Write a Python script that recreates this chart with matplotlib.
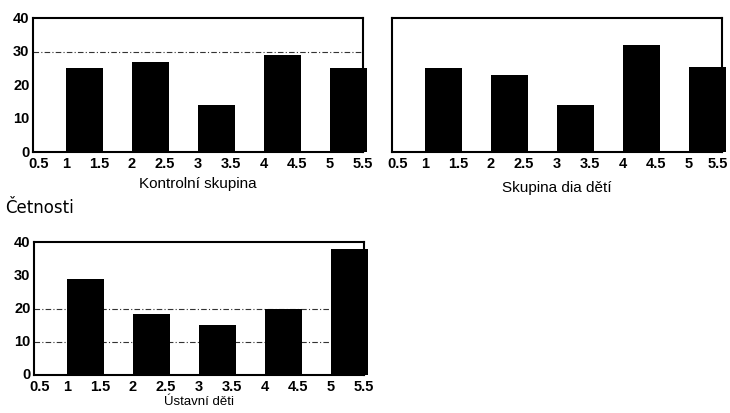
import matplotlib
matplotlib.use("Agg")
import matplotlib.pyplot as plt
import matplotlib.transforms as mtransforms

categories = [1, 2, 3, 4, 5]
kontrolni = [25, 27, 14, 29, 25]
dia_deti = [25, 23, 14, 32, 25.5]
ustavni = [29, 18.5, 15, 20, 38]
x_ticks = [0.5, 1, 1.5, 2, 2.5, 3, 3.5, 4, 4.5, 5, 5.5]
x_tick_labels = ["0.5", "1", "1.5", "2", "2.5", "3", "3.5", "4", "4.5", "5", "5.5"]
y_ticks = [0, 10, 20, 30, 40]
titles = ["Kontrolní skupina", "Skupina dia dětí", "Ústavní děti"]
grid_levels = [[30], [], [10, 20]]
ylabel = "Četnosti"

plt.rcParams['font.family'] = ['Liberation Sans', 'DejaVu Sans']

fig = plt.figure(figsize=(7.3, 4.14), dpi=100)
positions = [
    [0.0452, 0.6304, 0.452, 0.3237],
    [0.537, 0.6304, 0.452, 0.3237],
    [0.0466, 0.0918, 0.452, 0.321],
]
label_sizes = [11, 11, 9.5]
label_pads = [4, 7, 1]
series = [kontrolni, dia_deti, ustavni]


def shift(lab, dx_px, dy_px):
    off = mtransforms.ScaledTranslation(dx_px / fig.dpi, dy_px / fig.dpi, fig.dpi_scale_trans)
    lab.set_transform(lab.get_transform() + off)


for i, (pos, vals) in enumerate(zip(positions, series)):
    ax = fig.add_axes(pos)
    bars = ax.bar(categories, vals, width=0.56, align='edge', color='black', zorder=3)
    for b in bars:
        b.set_clip_on(False)
    for g in grid_levels[i]:
        ax.axhline(g, color='#333333', lw=0.8, ls=(0, (5, 2, 1, 2)), zorder=1)
    ax.set_xlim(0.5, 5.5)
    ax.set_ylim(0, 40)
    ax.tick_params(axis='x', length=0, pad=3)
    ax.tick_params(axis='y', length=0, pad=2.5)
    ax.set_xticks(x_ticks)
    ax.set_xticklabels(x_tick_labels, fontsize=10.5, fontweight='bold')
    ax.set_yticks(y_ticks)
    if i == 1:
        ax.set_yticklabels([])
    else:
        ax.set_yticklabels([str(v) for v in y_ticks], fontsize=10.5, fontweight='bold')
        for lab in ax.get_yticklabels():
            shift(lab, 0, 2)
    xl = ax.get_xticklabels()
    shift(xl[0], 6, 0)
    if i == 1:
        shift(xl[-1], -4, 0)
    for s in ax.spines.values():
        s.set_linewidth(1.5)
        s.set_color('black')
    ax.set_xlabel(titles[i], fontsize=label_sizes[i], labelpad=label_pads[i])

fig.text(0.007, 0.497, ylabel, fontsize=12, ha='left', va='center',
         family=['DejaVu Sans'])
fig.savefig("out.png", dpi=100)
